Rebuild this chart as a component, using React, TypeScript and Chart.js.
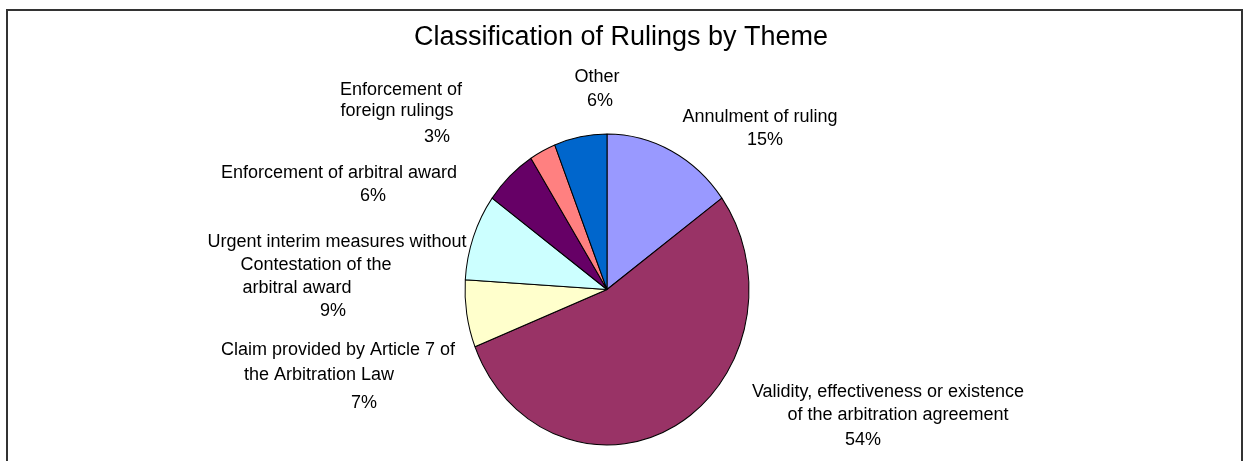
import React, { useEffect, useRef } from "react";
import { Chart, registerables } from "chart.js";

Chart.register(...registerables);

const titleText = "Classification of Rulings by Theme";

const categories = [
  "Annulment of ruling",
  "Validity, effectiveness or existence of the arbitration agreement",
  "Claim provided by Article 7 of the Arbitration Law",
  "Urgent interim measures without Contestation of the arbitral award",
  "Enforcement of arbitral award",
  "Enforcement of foreign rulings",
  "Other",
];

const shares = [15, 54, 7, 9, 6, 3, 6];

const labelLines = [
  ["Annulment of ruling"],
  ["Validity, effectiveness or existence", "of the arbitration agreement"],
  ["Claim provided by Article 7 of", "the Arbitration Law"],
  ["Urgent interim measures without", "Contestation of the", "arbitral award"],
  ["Enforcement of arbitral award"],
  ["Enforcement of", "foreign rulings"],
  ["Other"],
];

const sliceColors = ["#9999FF", "#993366", "#FFFFCC", "#CCFFFF", "#660066", "#FF8080", "#0066CC"];

// layout: centre of each text line (label lines followed by the percentage line)
const labelLayout = [
  [[760, 117], [765, 140]],
  [[888, 392], [898, 415], [863, 440]],
  [[338, 350], [319, 375], [364, 403]],
  [[337, 242], [316, 265], [297, 288], [333, 311]],
  [[339, 173], [373, 196]],
  [[401, 90], [397, 111], [437, 137]],
  [[597, 77], [600, 101]],
];

const FONT = '"Liberation Sans", Arial, Helvetica, sans-serif';
const W = 1245;
const H = 461;
const PIE_RX = 142;
const PIE_RY = 155.5;

const ellipsePlugin = {
  id: "ellipse",
  beforeDatasetsDraw(chart: any) {
    const meta = chart.getDatasetMeta(0);
    const arc = meta.data[0];
    if (!arc) return;
    const { x, y } = arc;
    const ctx = chart.ctx;
    ctx.save();
    ctx.translate(x, y);
    ctx.scale(1, PIE_RY / PIE_RX);
    ctx.translate(-x, -y);
  },
  afterDatasetsDraw(chart: any) {
    chart.ctx.restore();
  },
};

const textPlugin = {
  id: "texts",
  afterDraw(chart: any) {
    const ctx = chart.ctx;
    ctx.save();
    // frame
    ctx.strokeStyle = "#333333";
    ctx.lineWidth = 2;
    ctx.beginPath();
    ctx.moveTo(7, H + 5);
    ctx.lineTo(7, 10);
    ctx.lineTo(1242, 10);
    ctx.lineTo(1242, H + 5);
    ctx.stroke();
    // title
    ctx.fillStyle = "#000000";
    ctx.textAlign = "center";
    ctx.textBaseline = "middle";
    ctx.font = `27px ${FONT}`;
    ctx.fillText(titleText, 621, 38);
    // labels
    ctx.font = `18px ${FONT}`;
    labelLines.forEach((lines, i) => {
      const texts = [...lines, `${shares[i]}%`];
      const pos = labelLayout[i];
      texts.forEach((t, j) => {
        const p = pos[j];
        if (p) ctx.fillText(t, p[0], p[1]);
      });
    });
    ctx.restore();
  },
};

export default function App() {
  const ref = useRef<HTMLCanvasElement | null>(null);

  useEffect(() => {
    document.body.style.margin = "0";
    const canvas = ref.current;
    if (!canvas) return;
    const chart = new Chart(canvas, {
      type: "pie",
      data: {
        labels: categories,
        datasets: [
          {
            data: shares,
            backgroundColor: sliceColors,
            borderColor: "#000000",
            borderWidth: 1,
            clip: false as any,
          },
        ],
      },
      options: {
        responsive: false,
        animation: false,
        devicePixelRatio: 1,
        radius: PIE_RX,
        layout: { padding: { left: 0, right: 31, top: 118, bottom: 0 } },
        plugins: {
          legend: { display: false },
          title: { display: false },
          tooltip: { enabled: false },
        },
      } as any,
      plugins: [ellipsePlugin, textPlugin],
    });
    return () => chart.destroy();
  }, []);

  return (
    <div style={{ position: "absolute", left: 0, top: 0, width: W, height: H, background: "#fff" }}>
      <canvas ref={ref} width={W} height={H} style={{ width: W, height: H, display: "block" }} />
    </div>
  );
}
